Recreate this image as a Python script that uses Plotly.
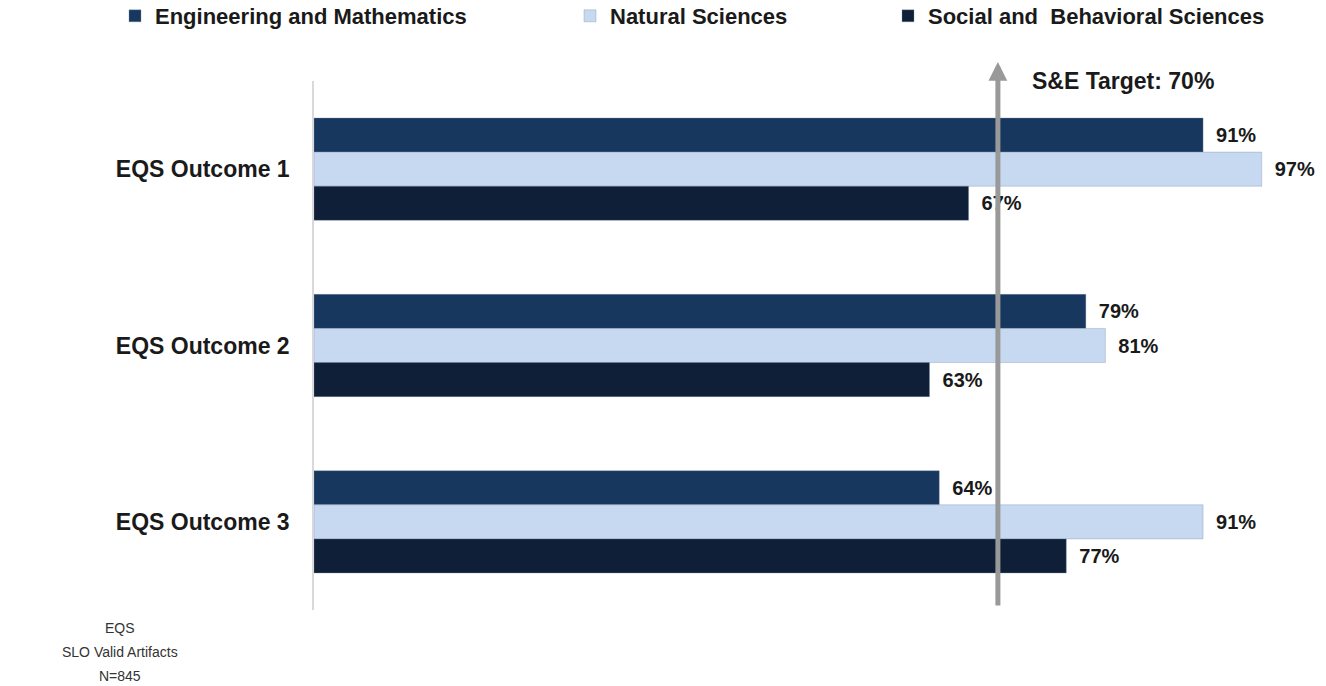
import plotly.graph_objects as go

# Outcome categories and percentage of valid artifacts meeting the standard
outcomes = ["EQS Outcome 1", "EQS Outcome 2", "EQS Outcome 3"]
engineering_math = [91, 79, 64]
natural_sciences = [97, 81, 91]
social_behavioral = [67, 63, 77]
target = 70
note_lines = ["EQS", "SLO Valid Artifacts", "N=845"]

series = [
    ("Engineering and Mathematics", engineering_math, "#17375e", "legend"),
    ("Natural Sciences", natural_sciences, "#c6d9f1", "legend2"),
    ("Social and  Behavioral Sciences", social_behavioral, "#0f1f38", "legend3"),
]

FONT = "Arial, Liberation Sans, sans-serif"
W, H = 1326, 686
L, R, T, B = 314, 35, 81, 76
PW, PH = W - L - R, H - T - B

fig = go.Figure()
for name, vals, color, lg in series:
    fig.add_trace(go.Bar(
        y=outcomes, x=vals, name=name, orientation="h",
        marker=dict(color=color, line=dict(color="rgba(120,140,170,0.6)", width=0.6)),
        texttemplate="\u2002%{x}%", textposition="outside", cliponaxis=False,
        textfont=dict(family=FONT, size=20, color="#1a1a1a", weight="bold"),
        legend=lg,
    ))

# Legends sit in the top margin, positioned in paper units from pixel spots
legend_top = (PH + T + 5) / PH
legend_common = dict(
    orientation="h", xref="paper", yref="paper", yanchor="top", y=legend_top,
    font=dict(family=FONT, size=22, color="#1a1a1a", weight="bold"),
    bgcolor="rgba(0,0,0,0)", itemclick=False,
)

fig.update_layout(
    width=W, height=H,
    margin=dict(l=L, r=R, t=T, b=B, autoexpand=False),
    paper_bgcolor="white", plot_bgcolor="white",
    barmode="group", bargap=0.42, bargroupgap=0,
    showlegend=True,
    legend=dict(x=(115 - L) / PW, **legend_common),
    legend2=dict(x=(570 - L) / PW, **legend_common),
    legend3=dict(x=(888 - L) / PW, **legend_common),
    xaxis=dict(range=[0, 100], showgrid=False, showticklabels=False, zeroline=False,
               showline=False, ticks=""),
    yaxis=dict(autorange="reversed", showgrid=False, showline=True, linecolor="#d9d9d9",
               linewidth=1.5, ticks="", ticklabelstandoff=18,
               tickfont=dict(family=FONT, size=23, color="#1a1a1a", weight="bold")),
)

# Target marker: vertical arrow at 70%
fig.add_annotation(
    x=target, y=1.036, xref="x", yref="paper", text="", showarrow=True,
    ax=0, ay=545, arrowhead=2, arrowsize=0.75, arrowwidth=5, arrowcolor="#999999",
)
fig.add_annotation(
    x=target, y=1.0, xref="x", yref="paper", xanchor="left", yanchor="middle",
    xshift=32, yshift=0, showarrow=False, text=f"S&E Target: {target}%",
    font=dict(family=FONT, size=23, color="#1a1a1a", weight="bold"),
)

# Sample note, one line per annotation
for i, line in enumerate(note_lines):
    y_px = 628 + i * 24
    fig.add_annotation(
        x=(120 - L) / PW, y=(T + PH - y_px) / PH, xref="paper", yref="paper",
        showarrow=False, xanchor="center", yanchor="middle", text=line,
        font=dict(family=FONT, size=14, color="#333333"),
    )

fig.write_html("out.html")
